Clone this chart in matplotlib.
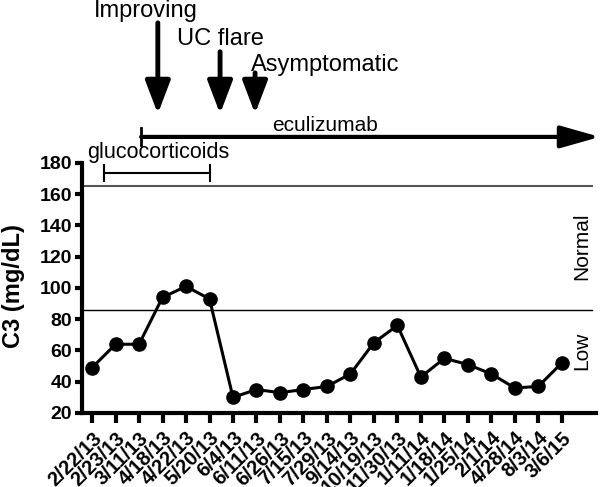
import matplotlib
matplotlib.use("Agg")
import matplotlib.pyplot as plt
import matplotlib.transforms as mtransforms

plt.rcParams['font.family'] = ['Liberation Sans', 'DejaVu Sans']

# data
dates = ["2/22/13", "2/23/13", "3/11/13", "4/18/13", "4/22/13", "5/20/13", "6/4/13",
         "6/11/13", "6/26/13", "7/15/13", "7/29/13", "9/14/13", "10/19/13", "11/30/13",
         "1/11/14", "1/18/14", "1/25/14", "2/1/14", "4/28/14", "8/3/14", "3/6/15"]
c3 = [49, 64, 64, 94, 101, 93, 30, 35, 33, 35, 37, 45, 65, 76, 43, 55, 51, 45, 36, 37, 52]
normal_upper = 165
normal_lower = 86

fig = plt.figure(figsize=(6.01, 4.87), dpi=100)
ax = fig.add_axes([0.1364, 0.152, 0.855, 0.5133])

x = list(range(len(dates)))
ax.plot(x, c3, color='black', lw=2.2, marker='o', markersize=9.5, zorder=3)

# reference lines
ax.plot([-0.43, 21.28], [normal_upper, normal_upper], color='#555555', lw=1.5, clip_on=False)
ax.plot([-0.43, 21.28], [normal_lower, normal_lower], color='black', lw=1.0, clip_on=False)
ax.text(20.85, 127, "Normal", rotation=90, ha='center', va='center', fontsize=15)
ax.text(20.85, 60, "Low", rotation=90, ha='center', va='center', fontsize=15)

ax.set_xlim(-0.43, 21.45)
ax.set_ylim(20, 180)
ax.set_yticks(range(20, 181, 20))
ax.set_xticks(x)
ax.set_xticklabels(dates, rotation=45, ha='right', va='top', rotation_mode='anchor',
                   fontsize=14.5, fontweight='bold')
shift = mtransforms.ScaledTranslation(3 / 100, 0, fig.dpi_scale_trans)
for lab in ax.get_xticklabels():
    lab.set_transform(lab.get_transform() + shift)
for lab in ax.get_yticklabels():
    lab.set_fontweight('bold')
    lab.set_fontsize(14)
ax.set_ylabel("C3 (mg/dL)", fontsize=17, fontweight='bold')
ax.yaxis.set_label_coords(-0.111, 0.508)

for s in ['top', 'right']:
    ax.spines[s].set_visible(False)
for s in ['left', 'bottom']:
    ax.spines[s].set_linewidth(3)
ax.tick_params(axis='x', length=7, width=3, pad=4)
ax.tick_params(axis='y', length=5, width=3, pad=2)

# glucocorticoids bracket
ax.plot([0.5, 5], [173.6, 173.6], color='black', lw=1.5, clip_on=False)
ax.plot([0.5, 0.5], [168.5, 178.7], color='black', lw=1.5, clip_on=False)
ax.plot([5, 5], [168.5, 178.7], color='black', lw=1.5, clip_on=False)
ax.text(-0.2, 183.2, "glucocorticoids", fontsize=15.5, va='baseline', ha='left', clip_on=False)

# eculizumab arrow
ax.annotate('', xy=(21.62, 196.7), xytext=(2.09, 196.7),
            arrowprops=dict(arrowstyle='-|>,head_width=0.34,head_length=1.2',
                            lw=3, color='black', shrinkA=0, shrinkB=0, mutation_scale=20),
            annotation_clip=False)
ax.plot([2.09, 2.09], [191.5, 202.4], color='black', lw=2, clip_on=False)
ax.text(9.9, 200.7, "eculizumab", fontsize=15, ha='center', va='baseline')

# event arrows
events = [("Improving", 2.8, 269.7, 0.085, 273.6),
          ("UC flare", 5.45, 251.2, 3.62, 255.6),
          ("Asymptomatic", 6.94, 237.7, 6.77, 239)]
for label, ex, ystart, tx, ty in events:
    ax.annotate('', xy=(ex, 211.5), xytext=(ex, ystart),
                arrowprops=dict(arrowstyle='-|>,head_width=0.38,head_length=1.0',
                                lw=3.5, color='black', shrinkA=0, shrinkB=0, mutation_scale=20),
                annotation_clip=False)
    ax.text(tx, ty, label, fontsize=17, ha='left', va='baseline')

fig.savefig("out.png", dpi=100)
